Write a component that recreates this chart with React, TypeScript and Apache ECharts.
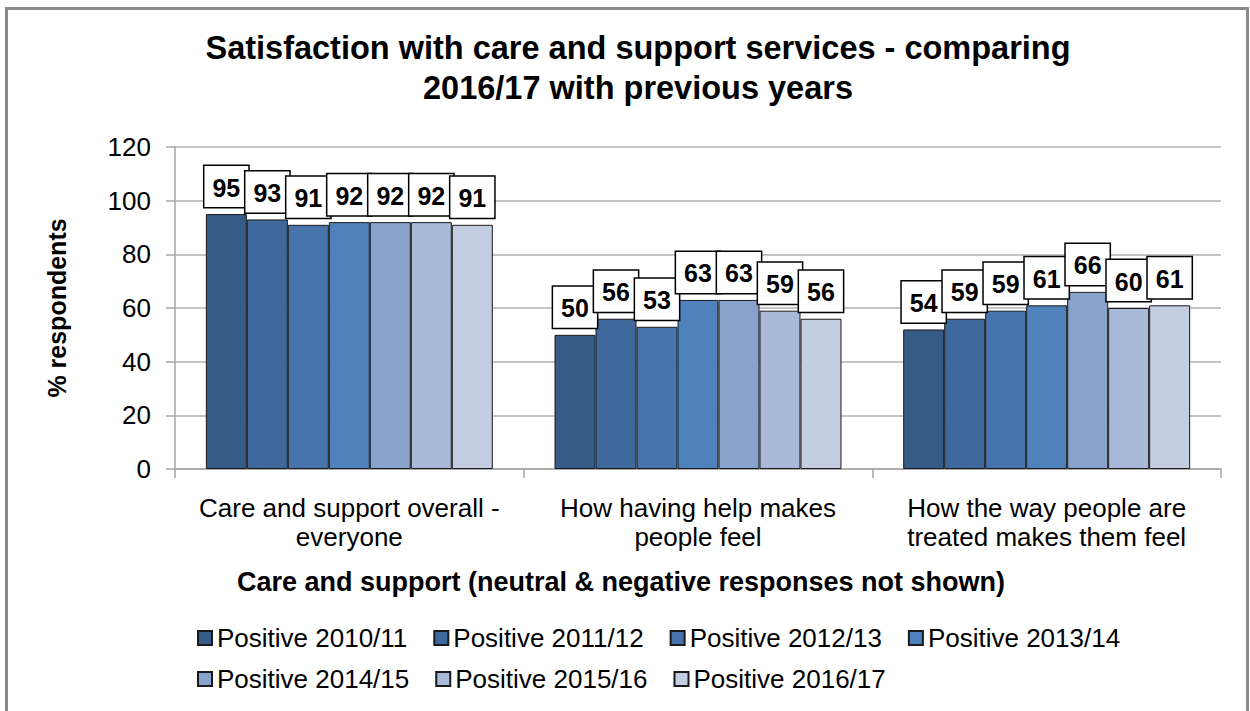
import React, { useEffect, useRef } from "react";
import * as echarts from "echarts";

const categories = [
  "Care and support overall -\neveryone",
  "How having help makes\npeople feel",
  "How the way people are\ntreated makes them feel",
];

const seriesNames = [
  "Positive 2010/11",
  "Positive 2011/12",
  "Positive 2012/13",
  "Positive 2013/14",
  "Positive 2014/15",
  "Positive 2015/16",
  "Positive 2016/17",
];

// bar heights
const v2010 = [95, 50, 52];
const v2011 = [93, 56, 56];
const v2012 = [91, 53, 59];
const v2013 = [92, 63, 61];
const v2014 = [92, 63, 66];
const v2015 = [92, 59, 60];
const v2016 = [91, 56, 61];

// data labels as printed
const l2010 = ["95", "50", "54"];
const l2011 = ["93", "56", "59"];
const l2012 = ["91", "53", "59"];
const l2013 = ["92", "63", "61"];
const l2014 = ["92", "63", "66"];
const l2015 = ["92", "59", "60"];
const l2016 = ["91", "56", "61"];

const yTicks = [0, 20, 40, 60, 80, 100, 120];

const colors = ["#375B87", "#3F699C", "#4774AC", "#4F81BD", "#87A2CB", "#A9B9D8", "#C4CEE2"];

const values = [v2010, v2011, v2012, v2013, v2014, v2015, v2016];
const labels = [l2010, l2011, l2012, l2013, l2014, l2015, l2016];

const FONT = "'Liberation Sans', Arial, sans-serif";

export default function App() {
  const ref = useRef<HTMLDivElement>(null);

  useEffect(() => {
    if (!ref.current) return;
    const chart = echarts.init(ref.current, undefined, { renderer: "svg" });

    const series = seriesNames.map((name, i) => ({
      name,
      type: "bar",
      data: values[i],
      barGap: "0%",
      barCategoryGap: "17.7%",
      itemStyle: { color: colors[i], borderColor: "#1a1a1a", borderWidth: 1 },
      label: {
        show: true,
        position: "top",
        distance: 7,
        formatter: (p: any) => labels[i][p.dataIndex],
        fontFamily: FONT,
        fontSize: 25,
        fontWeight: "bold",
        color: "#000",
        backgroundColor: "#fff",
        borderColor: "#000",
        borderWidth: 1.5,
        padding: [9, 8, 7, 8],
      },
    }));

    chart.setOption({
      animation: false,
      backgroundColor: "#fff",
      textStyle: { fontFamily: FONT },
      title: {
        text: "Satisfaction with care and support services - comparing\n2016/17 with previous years",
        left: 638,
        textAlign: "center",
        top: 28,
        padding: 0,
        textStyle: {
          fontFamily: FONT,
          fontSize: 32.5,
          fontWeight: "bold",
          color: "#000",
          lineHeight: 40,
        },
      },
      grid: { left: 175, right: 29, top: 147, bottom: 242, containLabel: false },
      legend: [
        {
          data: seriesNames.slice(0, 4),
          left: 192,
          top: 620,
          itemWidth: 14,
          itemHeight: 14,
          itemGap: 26,
          icon: "rect",
          textStyle: { fontFamily: FONT, fontSize: 26, color: "#000" },
        },
        {
          data: seriesNames.slice(4),
          left: 192,
          top: 661,
          itemWidth: 14,
          itemHeight: 14,
          itemGap: 26,
          icon: "rect",
          textStyle: { fontFamily: FONT, fontSize: 26, color: "#000" },
        },
      ],
      xAxis: {
        type: "category",
        data: categories,
        axisLine: { show: true, lineStyle: { color: "#A6A6A6", width: 1.5 } },
        axisTick: { show: true, length: 9, interval: 0, lineStyle: { color: "#A6A6A6", width: 1.5 } },
        axisLabel: {
          interval: 0,
          fontFamily: FONT,
          fontSize: 26,
          lineHeight: 29,
          color: "#000",
          margin: 24,
        },
      },
      yAxis: {
        type: "value",
        min: 0,
        max: 120,
        interval: 20,
        name: "% respondents",
        nameLocation: "middle",
        nameGap: 106,
        nameTextStyle: { fontFamily: FONT, fontSize: 25, fontWeight: "bold", color: "#000" },
        axisLine: { show: true, lineStyle: { color: "#A6A6A6", width: 1.5 } },
        axisTick: { show: true, length: 9, lineStyle: { color: "#A6A6A6", width: 1.5 } },
        splitLine: { show: true, lineStyle: { color: "#B0B0B0", width: 1.5 } },
        axisLabel: {
          fontFamily: FONT,
          fontSize: 26,
          color: "#000",
          margin: 24,
          formatter: (v: number) => (yTicks.includes(v) ? String(v) : ""),
        },
      },
      graphic: [
        {
          type: "rect",
          z: -10,
          shape: { x: 6.5, y: 8.5, width: 1241, height: 760 },
          style: { fill: "none", stroke: "#8A8A8A", lineWidth: 3 },
          silent: true,
        },
        {
          type: "text",
          x: 621,
          y: 582,
          style: {
            text: "Care and support (neutral & negative responses not shown)",
            fontFamily: FONT,
            fontSize: 27,
            fontWeight: "bold",
            fill: "#000",
            textAlign: "center",
            textVerticalAlign: "middle",
          },
        },
      ],
      series,
    });

    return () => chart.dispose();
  }, []);

  return (
    <div
      ref={ref}
      style={{ position: "absolute", left: 0, top: 0, width: 1250, height: 711 }}
    />
  );
}
